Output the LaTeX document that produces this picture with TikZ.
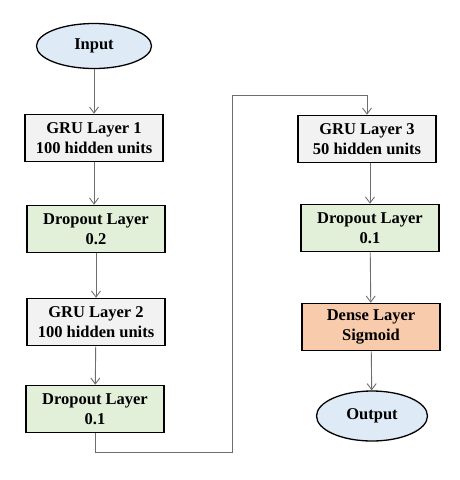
\documentclass[tikz,border=0pt]{standalone}
\usepackage{fontspec}
\setmainfont{Liberation Serif}
\usetikzlibrary{shapes.geometric, arrows.meta}

\definecolor{gruFill}{HTML}{F2F2F2}
\definecolor{dropFill}{HTML}{E2F0D9}
\definecolor{denseFill}{HTML}{F8CBAD}
\definecolor{ioFill}{HTML}{DEEBF7}
\definecolor{linkGray}{HTML}{6E6E6E}

\begin{document}
\begin{tikzpicture}[
        x=1pt, y=-1pt,
        layer/.style={rectangle, draw, line width=1.6pt, minimum width=138pt, minimum height=47pt,
            inner sep=0pt, align=center, font=\fontsize{16.5}{20}\selectfont\bfseries},
        io/.style={ellipse, draw, line width=1.3pt, fill=ioFill, inner sep=0pt,
            font=\fontsize{16.5}{20}\selectfont\bfseries},
        link/.style={draw=linkGray, line width=0.9pt, -{Straight Barb[length=6pt, width=9pt]}}
    ]
    \useasboundingbox (0,0) rectangle (459,480);

    % Entree
    \node[io, minimum width=115pt, minimum height=45pt] (input) at (94, 46) {Input};

    % Colonne gauche
    \node[layer, fill=gruFill] (gru1) at (94, 138) {GRU Layer 1\\100 hidden units};
    \node[layer, fill=dropFill] (drop1) at (96, 229) {Dropout Layer\\0.2};
    \node[layer, fill=gruFill] (gru2) at (96, 322) {GRU Layer 2\\100 hidden units};
    \node[layer, fill=dropFill] (drop2) at (95, 409) {Dropout Layer\\0.1};

    % Colonne droite
    \node[layer, fill=gruFill] (gru3) at (367, 139) {GRU Layer 3\\50 hidden units};
    \node[layer, fill=dropFill] (drop3) at (370, 228) {Dropout Layer\\0.1};
    \node[layer, fill=denseFill] (dense) at (371, 327) {Dense Layer\\Sigmoid};

    % Sortie
    \node[io, minimum width=111pt, minimum height=50pt] (output) at (372, 416) {Output};

    % Coudes du lien entre colonnes
    \coordinate (bendLow) at (232, 452);
    \coordinate (bendHigh) at (232, 95);

    % Liens
    \draw[link] (input) -- (gru1);
    \draw[link] (gru1) -- (gru1 |- drop1.north);
    \draw[link] (drop1) -- (gru2);
    \draw[link] (gru2) -- (drop2);
    \draw[link] (drop2.south) |- (bendLow) -- (bendHigh) -| (gru3.north);
    \draw[link] (gru3.south -| drop3.north) -- (drop3.north);
    \draw[link] (drop3) -- (dense);
    \draw[link] (dense) -- (output);

\end{tikzpicture}
\end{document}
